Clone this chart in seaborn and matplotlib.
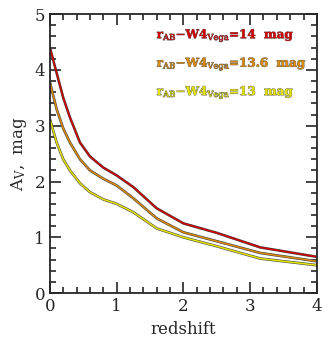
import numpy as np
import pandas as pd
import seaborn as sns
import matplotlib.pyplot as plt
import matplotlib.patheffects as pe
from matplotlib.ticker import MultipleLocator

# data
redshift = [0, 0.1, 0.2, 0.3, 0.45, 0.6, 0.8, 1.0, 1.25, 1.6, 2.0, 2.5, 3.15, 4.0]
av_14 = [4.4, 3.95, 3.5, 3.15, 2.7, 2.45, 2.25, 2.11, 1.9, 1.52, 1.25, 1.08, 0.82, 0.65]
av_136 = [3.78, 3.3, 2.95, 2.7, 2.4, 2.2, 2.05, 1.93, 1.7, 1.34, 1.09, 0.93, 0.72, 0.57]
av_13 = [3.12, 2.7, 2.4, 2.2, 1.97, 1.81, 1.68, 1.6, 1.45, 1.16, 1.0, 0.84, 0.62, 0.5]
labels = [r'r$_{\rm AB}$$-$W4$_{\rm Vega}$=14  mag',
          r'r$_{\rm AB}$$-$W4$_{\rm Vega}$=13.6  mag',
          r'r$_{\rm AB}$$-$W4$_{\rm Vega}$=13  mag']
colors = ['#d40000', '#d98a0a', '#e6e600']

sns.set_style('ticks')
plt.rcParams['font.family'] = ['DejaVu Serif']
plt.rcParams['mathtext.fontset'] = 'dejavuserif'

df = pd.DataFrame({
    'redshift': redshift * 3,
    'av': av_14 + av_136 + av_13,
    'model': ['14'] * len(redshift) + ['13.6'] * len(redshift) + ['13'] * len(redshift),
})

fig = plt.figure(figsize=(3.22, 3.54), dpi=100)
ax = fig.add_axes([0.155, 0.172, 0.829, 0.788])

sns.lineplot(data=df, x='redshift', y='av', hue='model', palette=colors,
             linewidth=1.1, legend=False, ax=ax)
for line in ax.get_lines():
    line.set_path_effects([pe.Stroke(linewidth=1.9, foreground='#444444'), pe.Normal()])

ax.set_xlim(0, 4)
ax.set_ylim(0, 5)
ax.xaxis.set_major_locator(MultipleLocator(1))
ax.xaxis.set_minor_locator(MultipleLocator(0.2))
ax.yaxis.set_major_locator(MultipleLocator(1))
ax.yaxis.set_minor_locator(MultipleLocator(0.2))
ax.tick_params(which='both', direction='in', top=True, right=True, width=1.2, labelsize=12)
ax.tick_params(which='major', length=8)
ax.tick_params(which='minor', length=4)
for s in ax.spines.values():
    s.set_linewidth(1.3)

ax.set_xlabel('redshift', fontsize=12)
ax.set_ylabel(r'A$_{\rm V}$,  mag', fontsize=12)

for i, (lab, c) in enumerate(zip(labels, colors)):
    t = ax.text(1.6, 4.62 - 0.51 * i, lab, color=c, fontsize=8.6, fontweight='bold',
                va='center', ha='left')
    t.set_path_effects([pe.Stroke(linewidth=0.6, foreground='#666666'), pe.Normal()])

fig.savefig('out.png', dpi=100)
